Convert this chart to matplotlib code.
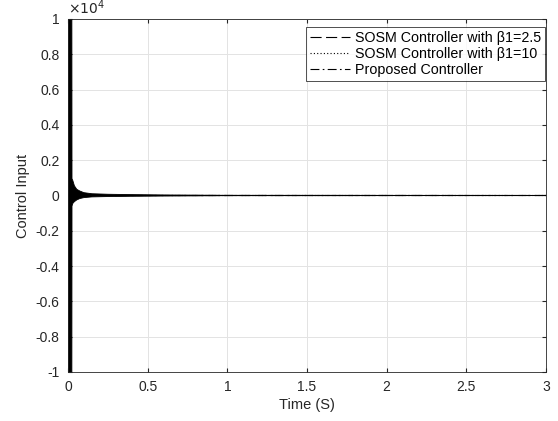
import matplotlib.pyplot as plt
from matplotlib.ticker import FuncFormatter
import numpy as np

plt.rcParams['font.family'] = ['Liberation Sans', 'DejaVu Sans']

# envelope of the chattering control input
t_env = [0, 0.024, 0.025, 0.03, 0.04, 0.055, 0.075, 0.1, 0.15, 0.25, 0.4, 0.6, 1.0, 3.0]
u_upper = [1.2e4, 1.2e4, 950, 850, 550, 350, 250, 160, 100, 70, 50, 30, 10, 5]
u_lower = [-1.2e4, -1.2e4, -600, -450, -350, -250, -170, -120, -80, -60, -45, -30, -10, -5]

# steady value of the three controllers after the transient
t_line = [0, 3]
u_sosm25 = [0, 0]
u_sosm10 = [0, 0]
u_prop = [0, 0]

labels = ['SOSM Controller with \u03b21=2.5', 'SOSM Controller with \u03b21=10', 'Proposed Controller']


def scaled(x, pos):
    return '%g' % round(x * 1e-4, 2)


fig = plt.figure(figsize=(5.58, 4.21), dpi=100)
ax = fig.add_axes([0.1219, 0.1164, 0.8566, 0.8385])

ax.fill_between(t_env, u_lower, u_upper, color='black', lw=0.6)
ax.plot(t_line, u_sosm25, color='k', ls=(0, (10, 4)), lw=0.8, label=labels[0])
ax.plot(t_line, u_sosm10, color='k', ls=(0, (1, 2)), lw=0.8, label=labels[1])
ax.plot(t_line, u_prop, color='k', ls=(0, (8, 3, 1.5, 3)), lw=0.8, label=labels[2])

ax.set_xlim(0, 3)
ax.set_ylim(-1e4, 1e4)
ax.set_xticks(np.arange(0, 3.01, 0.5))
ax.set_xticklabels(['0', '0.5', '1', '1.5', '2', '2.5', '3'])
ax.set_yticks(np.linspace(-1e4, 1e4, 11))
ax.yaxis.set_major_formatter(FuncFormatter(scaled))
ax.text(0.0, 1.005, '$\\times10^4$', transform=ax.transAxes, fontsize=10,
        color='#262626', ha='left', va='bottom')

ax.grid(True, color='#e3e3e3', lw=0.7)
ax.set_axisbelow(True)
ax.tick_params(direction='in', length=3, labelsize=10, colors='#262626',
               top=True, right=True, pad=6)
for s in ax.spines.values():
    s.set_color('#262626')
    s.set_linewidth(0.6)

ax.set_xlabel('Time (S)', fontsize=10.5, color='#262626', labelpad=3)
ax.set_ylabel('Control Input', fontsize=10.5, color='#262626', labelpad=4)

leg = ax.legend(loc='upper right', bbox_to_anchor=(0.998, 0.977), fontsize=10.3,
                frameon=True, fancybox=False, edgecolor='black', handlelength=2.8,
                borderpad=0.25, labelspacing=0.15, handletextpad=0.4, borderaxespad=0)
leg.get_frame().set_linewidth(0.6)

fig.savefig('out.png', dpi=100)
